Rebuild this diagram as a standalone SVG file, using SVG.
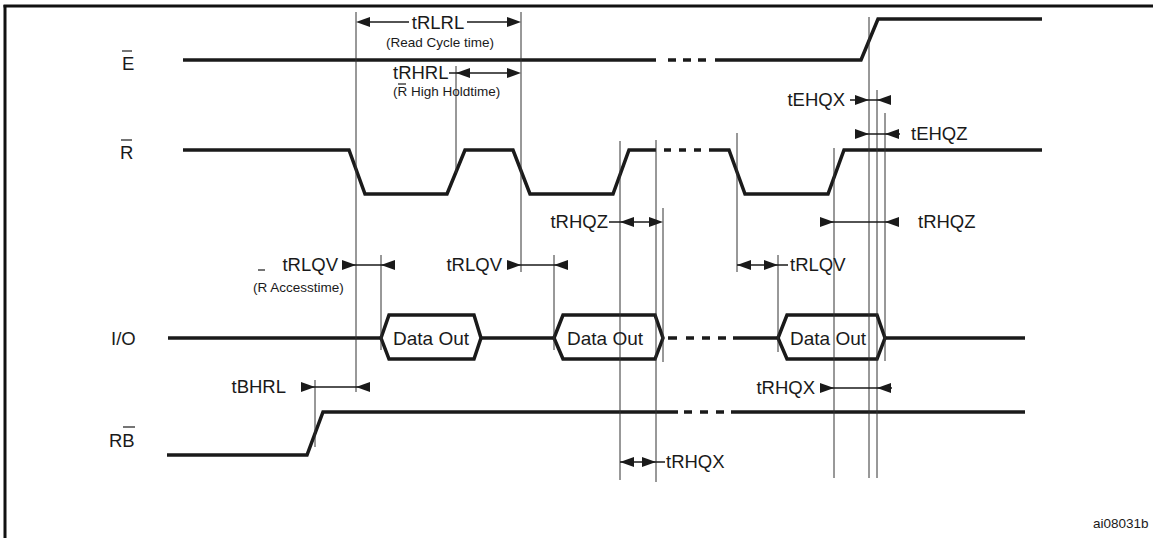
<svg xmlns="http://www.w3.org/2000/svg" width="1153" height="538" viewBox="0 0 1153 538">
<style>
.sig{fill:none;stroke:#1a1a1a;stroke-width:3.5;stroke-linejoin:miter}
.dash{fill:none;stroke:#1a1a1a;stroke-width:3.5}
.vl{stroke:#333;stroke-width:1}
.al{stroke:#1a1a1a;stroke-width:1.3}
.ah{fill:#1a1a1a}
.t{font-family:"Liberation Sans",Arial,sans-serif;font-size:18.5px;fill:#1a1a1a}
.s{font-family:"Liberation Sans",Arial,sans-serif;font-size:13.5px;fill:#1a1a1a}
.d{font-family:"Liberation Sans",Arial,sans-serif;font-size:19px;fill:#1a1a1a}
.bar{stroke:#1a1a1a;stroke-width:1.2}
</style>
<defs>
<path id="aR" d="M0,0 L-14,-5 L-14,5 Z"/>
<path id="aL" d="M0,0 L14,-5 L14,5 Z"/>
</defs>
<rect width="1153" height="538" fill="#fff"/>
<g id="frame">
<line x1="3.5" y1="6" x2="1153" y2="6" stroke="#111" stroke-width="3"/>
<line x1="5" y1="5" x2="5" y2="538" stroke="#111" stroke-width="3"/>
</g>
<g id="labels">
<text class="t" x="122" y="70">E</text><line class="bar" x1="122" y1="51" x2="132" y2="51"/>
<text class="t" x="120" y="159">R</text><line class="bar" x1="121" y1="140" x2="132" y2="140"/>
<text class="t" x="111" y="345">I/O</text>
<text class="t" x="109" y="447">RB</text><line class="bar" x1="123" y1="427" x2="135" y2="427"/>
<text class="s" x="1093" y="528" font-size="14">ai08031b</text>
</g>
<g id="signal-E">
<polyline class="sig" points="183,60 656,60"/>
<path class="dash" d="M668,60H676M683,60H691M698,60H706"/>
<polyline class="sig" points="715,60 861,60 878,19 1042,19"/>
</g>
<g id="signal-R">
<polyline class="sig" points="183,150 349,150 365,194 447,194 465,150 513,150 530,194 613,194 629,150 656,150"/>
<path class="dash" d="M664,150H671M679,150H686M694,150H701"/>
<polyline class="sig" points="709,150 729,150 745,194 828,194 844,150 1042,150"/>
</g>
<g id="signal-IO">
<polyline class="sig" points="168,338 381,338"/>
<path class="sig" d="M381,338 L389,315 L474,315 L481,338 L474,359 L389,359 Z"/>
<polyline class="sig" points="481,338 554,338"/>
<path class="sig" d="M554,338 L563,315 L655,315 L663,338 L655,359 L563,359 Z"/>
<path class="dash" d="M668,338H677M686,338H694M702,338H710M718,338H726"/>
<polyline class="sig" points="733,338 778,338"/>
<path class="sig" d="M778,338 L787,315 L877,315 L885,338 L877,359 L787,359 Z"/>
<polyline class="sig" points="885,338 1025,338"/>
<text class="d" x="431" y="345" text-anchor="middle">Data Out</text>
<text class="d" x="605" y="345" text-anchor="middle">Data Out</text>
<text class="d" x="828" y="345" text-anchor="middle">Data Out</text>
</g>
<g id="signal-RB">
<polyline class="sig" points="167,455 307,455 323,412 678,412"/>
<path class="dash" d="M684,412H692M700,412H708M716,412H724"/>
<polyline class="sig" points="731,412 1025,412"/>
</g>
<g id="connectors">
<line class="vl" x1="356" y1="12" x2="356" y2="392"/>
<line class="vl" x1="456" y1="66" x2="456" y2="173"/>
<line class="vl" x1="521" y1="12" x2="521" y2="272"/>
<line class="vl" x1="381" y1="255" x2="381" y2="350"/>
<line class="vl" x1="554" y1="255" x2="554" y2="350"/>
<line class="vl" x1="620" y1="141" x2="620" y2="480"/>
<line class="vl" x1="656" y1="140" x2="656" y2="482"/>
<line class="vl" x1="663" y1="208" x2="663" y2="362"/>
<line class="vl" x1="737" y1="133" x2="737" y2="272"/>
<line class="vl" x1="778" y1="255" x2="778" y2="352"/>
<line class="vl" x1="834" y1="148" x2="834" y2="478"/>
<line class="vl" x1="869" y1="17" x2="869" y2="478"/>
<line class="vl" x1="877" y1="90" x2="877" y2="478"/>
<line class="vl" x1="885" y1="113" x2="885" y2="361"/>
<line class="vl" x1="315" y1="380" x2="315" y2="447"/>

<!-- tRLRL -->
<line class="al" x1="360" y1="22" x2="409" y2="22"/><line class="al" x1="467" y1="22" x2="517" y2="22"/>
<use href="#aL" x="356" y="22" class="ah"/><use href="#aR" x="521" y="22" class="ah"/>
<text class="t" x="438" y="29" text-anchor="middle">tRLRL</text>
<text class="s" x="440" y="47" text-anchor="middle">(Read Cycle time)</text>

<!-- tRHRL -->
<line class="al" x1="449" y1="73" x2="517" y2="73"/>
<use href="#aL" x="456" y="73" class="ah"/><use href="#aR" x="521" y="73" class="ah"/>
<text class="t" x="393" y="79">tRHRL</text>
<text class="s" x="393" y="96">(R High Holdtime)</text><line class="bar" x1="398" y1="84" x2="406" y2="84"/>

<!-- tEHQX -->
<line class="al" x1="850" y1="100" x2="890" y2="100"/>
<use href="#aR" x="869" y="100" class="ah"/><use href="#aL" x="877" y="100" class="ah"/>
<text class="t" x="845" y="106" text-anchor="end">tEHQX</text>

<!-- tEHQZ -->
<line class="al" x1="855" y1="134" x2="900" y2="134"/>
<use href="#aR" x="869" y="134" class="ah"/><use href="#aL" x="885" y="134" class="ah"/>
<text class="t" x="911" y="140">tEHQZ</text>

<!-- tRHQZ left -->
<line class="al" x1="609" y1="222" x2="659" y2="222"/>
<use href="#aL" x="620" y="222" class="ah"/><use href="#aR" x="663" y="222" class="ah"/>
<text class="t" x="608" y="228" text-anchor="end">tRHQZ</text>

<!-- tRHQZ right -->
<line class="al" x1="822" y1="222" x2="898" y2="222"/>
<use href="#aR" x="834" y="222" class="ah"/><use href="#aL" x="885" y="222" class="ah"/>
<text class="t" x="918" y="228">tRHQZ</text>

<!-- tRLQV left -->
<line class="al" x1="344" y1="265" x2="394" y2="265"/>
<use href="#aR" x="356" y="265" class="ah"/><use href="#aL" x="381" y="265" class="ah"/>
<text class="t" x="338" y="271" text-anchor="end">tRLQV</text>
<text class="s" x="253" y="292">(R Accesstime)</text><line class="bar" x1="258" y1="270" x2="265" y2="270"/>

<!-- tRLQV middle -->
<line class="al" x1="509" y1="265" x2="567" y2="265"/>
<use href="#aR" x="521" y="265" class="ah"/><use href="#aL" x="554" y="265" class="ah"/>
<text class="t" x="502" y="271" text-anchor="end">tRLQV</text>

<!-- tRLQV right -->
<line class="al" x1="737" y1="265" x2="788" y2="265"/>
<use href="#aL" x="737" y="265" class="ah"/><use href="#aR" x="778" y="265" class="ah"/>
<text class="t" x="790" y="271">tRLQV</text>

<!-- tBHRL -->
<line class="al" x1="302" y1="387" x2="370" y2="387"/>
<use href="#aR" x="315" y="387" class="ah"/><use href="#aL" x="356" y="387" class="ah"/>
<text class="t" x="286" y="393" text-anchor="end">tBHRL</text>

<!-- tRHQX right -->
<line class="al" x1="820" y1="388" x2="892" y2="388"/>
<use href="#aR" x="834" y="388" class="ah"/><use href="#aL" x="877" y="388" class="ah"/>
<text class="t" x="815" y="394" text-anchor="end">tRHQX</text>

<!-- tRHQX bottom -->
<line class="al" x1="620" y1="462" x2="665" y2="462"/>
<use href="#aL" x="620" y="462" class="ah"/><use href="#aR" x="656" y="462" class="ah"/>
<text class="t" x="666" y="468">tRHQX</text>
</g>
</svg>
